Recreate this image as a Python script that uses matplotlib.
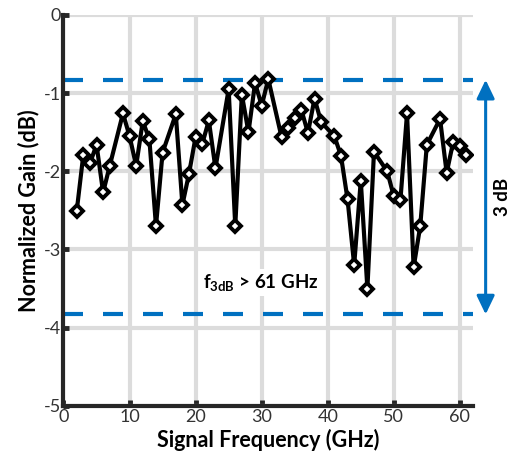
import matplotlib.pyplot as plt

# gain vs frequency (no points at 8, 16, 24, ... GHz)
freq = [2, 3, 4, 5, 6, 7, 9, 10, 11, 12, 13, 14, 15, 17, 18, 19, 20, 21, 22, 23,
        25, 26, 27, 28, 29, 30, 31, 33, 34, 35, 36, 37, 38, 39, 41, 42, 43, 44,
        45, 46, 47, 49, 50, 51, 52, 53, 54, 55, 57, 58, 59, 60, 61]
gain = [-2.51, -1.79, -1.90, -1.66, -2.27, -1.93, -1.26, -1.55, -1.93, -1.36,
        -1.59, -2.70, -1.76, -1.27, -2.43, -2.03, -1.56, -1.65, -1.35, -1.96,
        -0.95, -2.70, -1.02, -1.50, -0.87, -1.16, -0.82, -1.56, -1.45, -1.32,
        -1.21, -1.51, -1.07, -1.37, -1.55, -1.80, -2.36, -3.20, -2.12, -3.50,
        -1.75, -2.00, -2.32, -2.37, -1.26, -3.23, -2.70, -1.66, -1.33, -2.02,
        -1.62, -1.68, -1.79]

top_level = -0.83
bottom_level = top_level - 3
xticks = [0, 10, 20, 30, 40, 50, 60]
yticks = [0, -1, -2, -3, -4, -5]

plt.rcParams['font.family'] = ['Lato', 'DejaVu Sans']
plt.rcParams['mathtext.fontset'] = 'custom'
plt.rcParams['mathtext.rm'] = 'Lato:bold'
plt.rcParams['mathtext.bf'] = 'Lato:bold'

fig = plt.figure(figsize=(5.12, 4.66), dpi=100)
ax = fig.add_axes([0.124, 0.129, 0.8, 0.839])

blue = '#0070C0'

ax.plot(freq, gain, color='black', lw=3, marker='D', ms=6.2,
        mfc='white', mec='black', mew=2.8, zorder=4)

# +-1.5 dB window lines
for lvl in (top_level, bottom_level):
    ax.axhline(lvl, color=blue, lw=3, dashes=(4.8, 4.8), zorder=3)

ax.set_xlim(0, 62)
ax.set_ylim(-5, 0)
ax.set_xticks(xticks)
ax.set_yticks(yticks)
ax.set_yticklabels([str(t) for t in yticks])
ax.grid(True, color='#dcdcdc', lw=3)
ax.set_axisbelow(True)

for s in ('top', 'right'):
    ax.spines[s].set_visible(False)
for s in ('left', 'bottom'):
    ax.spines[s].set_linewidth(3)
    ax.spines[s].set_color('#262626')
    ax.spines[s].set_zorder(5)
ax.tick_params(direction='in', length=4.5, width=3.5, color='#262626',
               labelsize=13, labelcolor='#333333', pad=2)

ax.set_xlabel('Signal Frequency (GHz)', fontsize=15.5, fontweight='bold',
              labelpad=3)
ax.set_ylabel('Normalized Gain (dB)', fontsize=15.5, fontweight='bold',
              labelpad=3)

ax.text(29.9, -3.42, r'$\mathrm{f_{3dB}}$ > 61 GHz', fontsize=13.5,
        fontweight='bold', ha='center', va='center', zorder=3,
        bbox=dict(facecolor='white', edgecolor='none', pad=2))

ax.annotate('', xy=(63.9, top_level), xytext=(63.9, bottom_level),
            annotation_clip=False,
            arrowprops=dict(arrowstyle='<|-|>,head_length=0.75,head_width=0.36',
                            mutation_scale=15, color=blue, lw=2.2,
                            shrinkA=0, shrinkB=0))
ax.text(66.4, (top_level + bottom_level) / 2, '3 dB', rotation=90,
        fontsize=13.5, fontweight='bold', ha='center', va='center',
        clip_on=False)

fig.savefig('out.png', dpi=100)
